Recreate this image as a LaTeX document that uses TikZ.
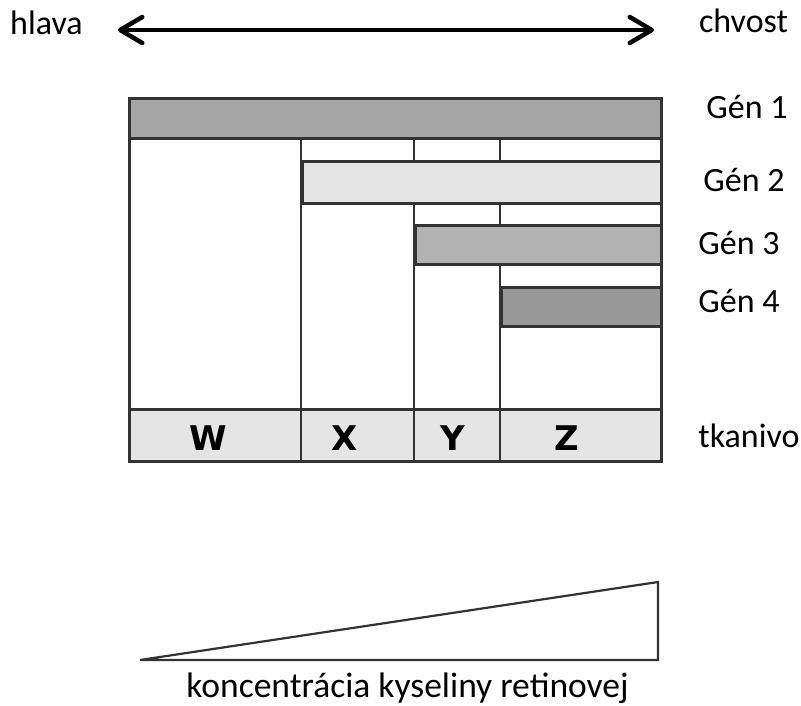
\documentclass[tikz,border=0pt]{standalone}
\usepackage{fontspec}
\setmainfont{Carlito}
\newfontfamily\lettfont{DejaVu Sans}
\usetikzlibrary{arrows.meta}
\begin{document}
\begin{tikzpicture}[x=1pt,y=-1pt,
  frame/.style={draw=black!80, line width=2.8pt},
  bar/.style={frame, rectangle, inner sep=0pt, anchor=north west},
  lbl/.style={font=\fontsize{34}{40}\selectfont, inner sep=0pt, anchor=base},
  lett/.style={font=\lettfont\bfseries\fontsize{34}{38}\selectfont, inner sep=0pt, anchor=base},
  dblarrow/.style={line width=4.5pt, {Straight Barb[length=22pt,width=26pt,line cap=round,line join=round]}-{Straight Barb[length=22pt,width=26pt,line cap=round,line join=round]}}
]
\useasboundingbox (0,0) rectangle (801,706);
% top arrow
\node[lbl] (hlava) at (46.5,35) {hlava};
\node[lbl] (chvost) at (743.5,33) {chvost};
\coordinate (al) at (118,30);
\coordinate (ar) at (654,30);
\draw[dblarrow] (al) -- (ar);
% outer frame
\node[bar, fill=white, minimum width=532pt, minimum height=363pt] (outer) at (128,97) {};
% column lines
\draw[frame] (301,137) -- (301,460);
\draw[frame] (414,137) -- (414,460);
\draw[frame] (500,137) -- (500,460);
% gene bars
\node[bar, fill=black!35, minimum width=532pt, minimum height=40pt] (g1) at (128,97) {};
\node[bar, fill=black!10, minimum width=359pt, minimum height=42pt] (g2) at (301,160) {};
\node[bar, fill=black!30, minimum width=246pt, minimum height=39pt] (g3) at (414,224) {};
\node[bar, fill=black!40, minimum width=160pt, minimum height=39pt] (g4) at (500,286) {};
% tissue row
\node[bar, fill=black!10, minimum width=532pt, minimum height=52pt] (tis) at (128,408) {};
\draw[frame] (301,408) -- (301,460);
\draw[frame] (414,408) -- (414,460);
\draw[frame] (500,408) -- (500,460);
\node[lett] (W) at (208,450) {W};
\node[lett] (X) at (345,450) {X};
\node[lett] (Y) at (453,450) {Y};
\node[lett] (Z) at (567,450) {Z};
% right labels
\node[lbl] (l1) at (747,119) {Gén 1};
\node[lbl] (l2) at (744,192) {Gén 2};
\node[lbl] (l3) at (739,254) {Gén 3};
\node[lbl] (l4) at (739,312) {Gén 4};
\node[lbl] (lt) at (749,447) {tkanivo};
% triangle
\coordinate (t1) at (140,660);
\coordinate (t2) at (658,660);
\coordinate (t3) at (658,582);
\draw[draw=black!80, line width=2.2pt, line join=miter] (t1) -- (t2) -- (t3) -- cycle;
\node[lbl, font=\fontsize{35.5}{40}\selectfont] (conc) at (407.5,697) {koncentrácia kyseliny retinovej};
\end{tikzpicture}
\end{document}
